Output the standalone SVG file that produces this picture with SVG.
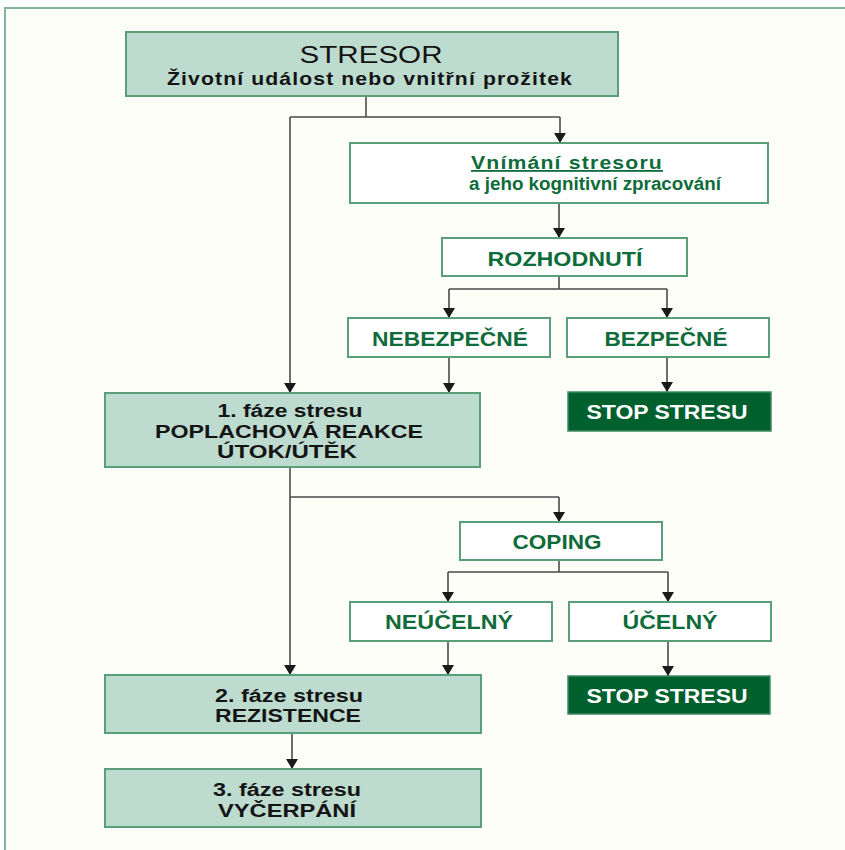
<svg xmlns="http://www.w3.org/2000/svg" width="845" height="850" viewBox="0 0 845 850">
<defs>
<marker id="ah" viewBox="0 0 10 12" refX="10" refY="6" markerWidth="10" markerHeight="12" markerUnits="userSpaceOnUse" orient="auto">
<path d="M0,0 L10,6 L0,12 z" fill="#1a1a1a"/>
</marker>
<style>
.g{fill:#BDDBCF;stroke:#5A9E7A;stroke-width:2}
.w{fill:#FFFFFF;stroke:#5A9E7A;stroke-width:2}
.d{fill:#00602E;stroke:#3E8A62;stroke-width:1.5}
.t{font-family:"Liberation Sans",Arial,sans-serif;font-weight:bold;text-anchor:middle}
.blk{fill:#141414}
.grn{fill:#0E6B3A}
.wht{fill:#FFFFFF}
.c{fill:none;stroke:#4a4a4a;stroke-width:1.6}
.ca{fill:none;stroke:#4a4a4a;stroke-width:1.6;marker-end:url(#ah)}
</style>
</defs>
<rect x="0" y="0" width="845" height="850" fill="#FFFFFF"/>
<rect x="5" y="8" width="841" height="843" fill="#FDFEF7"/>
<path d="M5,851 L5,8 L846,8" fill="none" stroke="#86B39C" stroke-width="2"/>

<g id="connectors">
<path class="c" d="M366,96 L366,117 M290,117 L560,117"/>
<path class="ca" d="M560,117 L560,143"/>
<path class="ca" d="M290,117 L290,393"/>
<path class="ca" d="M559,203 L559,238"/>
<path class="c" d="M559,276 L559,289 M449,289 L667,289"/>
<path class="ca" d="M449,289 L449,318"/>
<path class="ca" d="M667,289 L667,318"/>
<path class="ca" d="M449,357 L449,393"/>
<path class="ca" d="M667,357 L667,392"/>
<path class="ca" d="M290,467 L290,675"/>
<path class="c" d="M290,497 L559,497"/>
<path class="ca" d="M559,497 L559,522"/>
<path class="c" d="M559,560 L559,572 M448,572 L668,572"/>
<path class="ca" d="M448,572 L448,602"/>
<path class="ca" d="M668,572 L668,602"/>
<path class="ca" d="M448,641 L448,675"/>
<path class="ca" d="M668,641 L668,676"/>
<path class="ca" d="M292,733 L292,769"/>
</g>

<g id="stresor">
<rect class="g" x="126" y="32" width="492" height="64"/>
<text class="t blk" x="371" y="63" font-size="23" style="font-weight:normal" textLength="143" lengthAdjust="spacingAndGlyphs">STRESOR</text>
<text class="t blk" x="370" y="85" font-size="19" letter-spacing="1" textLength="406" lengthAdjust="spacingAndGlyphs">Životní událost nebo vnitřní prožitek</text>
</g>

<g id="vnimani">
<rect class="w" x="350" y="143" width="418" height="60"/>
<text class="t grn" x="567" y="169" font-size="18" letter-spacing="1" textLength="192" lengthAdjust="spacingAndGlyphs" text-decoration="underline">Vnímání stresoru</text>
<text class="t grn" x="595" y="190" font-size="18" textLength="252" lengthAdjust="spacingAndGlyphs">a jeho kognitivní zpracování</text>
</g>

<g id="rozhodnuti">
<rect class="w" x="442" y="238" width="245" height="38"/>
<text class="t grn" x="565" y="266" font-size="20" textLength="155" lengthAdjust="spacingAndGlyphs">ROZHODNUTÍ</text>
</g>

<g id="nebezpecne">
<rect class="w" x="348" y="318" width="202" height="39"/>
<text class="t grn" x="450" y="346" font-size="20" textLength="156" lengthAdjust="spacingAndGlyphs">NEBEZPEČNÉ</text>
</g>

<g id="bezpecne">
<rect class="w" x="567" y="318" width="202" height="39"/>
<text class="t grn" x="666" y="346" font-size="20" textLength="123" lengthAdjust="spacingAndGlyphs">BEZPEČNÉ</text>
</g>

<g id="stop1">
<rect class="d" x="568" y="392" width="203" height="39"/>
<text class="t wht" x="667" y="419" font-size="20" textLength="161" lengthAdjust="spacingAndGlyphs">STOP STRESU</text>
</g>

<g id="faze1">
<rect class="g" x="105" y="393" width="375" height="74"/>
<text class="t blk" x="290" y="417" font-size="18" textLength="145" lengthAdjust="spacingAndGlyphs">1. fáze stresu</text>
<text class="t blk" x="289" y="438" font-size="19" textLength="268" lengthAdjust="spacingAndGlyphs">POPLACHOVÁ REAKCE</text>
<text class="t blk" x="287" y="458" font-size="19" textLength="140" lengthAdjust="spacingAndGlyphs">ÚTOK/ÚTĚK</text>
</g>

<g id="coping">
<rect class="w" x="460" y="522" width="202" height="38"/>
<text class="t grn" x="557" y="549" font-size="20" textLength="89" lengthAdjust="spacingAndGlyphs">COPING</text>
</g>

<g id="neucelny">
<rect class="w" x="350" y="602" width="202" height="39"/>
<text class="t grn" x="449" y="629" font-size="20" textLength="128" lengthAdjust="spacingAndGlyphs">NEÚČELNÝ</text>
</g>

<g id="ucelny">
<rect class="w" x="569" y="602" width="202" height="39"/>
<text class="t grn" x="670" y="629" font-size="20" textLength="95" lengthAdjust="spacingAndGlyphs">ÚČELNÝ</text>
</g>

<g id="stop2">
<rect class="d" x="568" y="676" width="202" height="38"/>
<text class="t wht" x="667" y="703" font-size="20" textLength="161" lengthAdjust="spacingAndGlyphs">STOP STRESU</text>
</g>

<g id="faze2">
<rect class="g" x="105" y="675" width="376" height="58"/>
<text class="t blk" x="289" y="702" font-size="18" textLength="148" lengthAdjust="spacingAndGlyphs">2. fáze stresu</text>
<text class="t blk" x="288" y="722" font-size="19" textLength="146" lengthAdjust="spacingAndGlyphs">REZISTENCE</text>
</g>

<g id="faze3">
<rect class="g" x="105" y="769" width="376" height="58"/>
<text class="t blk" x="287" y="796" font-size="18" textLength="148" lengthAdjust="spacingAndGlyphs">3. fáze stresu</text>
<text class="t blk" x="287" y="817" font-size="19" textLength="138" lengthAdjust="spacingAndGlyphs">VYČERPÁNÍ</text>
</g>
</svg>
